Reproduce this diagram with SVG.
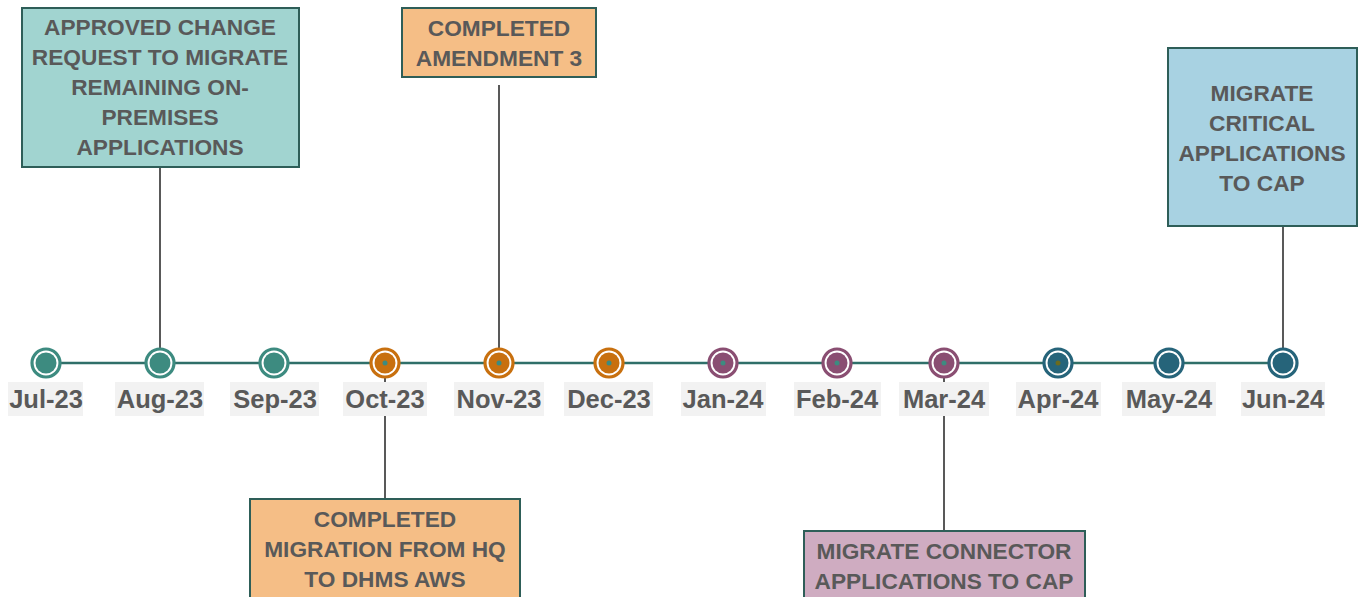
<svg xmlns="http://www.w3.org/2000/svg" width="1364" height="597" viewBox="0 0 1364 597">
<style>
.bg{fill:#ffffff}
.conn{stroke:#595959;stroke-width:2;fill:none}
.axis{stroke:#2f6f69;stroke-width:2.5}
.box{stroke:#2e5e58;stroke-width:2}
.bt{font-family:"Liberation Sans",Arial,sans-serif;font-weight:bold;font-size:22.7px;fill:#595959;text-anchor:middle}
.lb{fill:#f2f2f2}
.lt{font-family:"Liberation Sans",Arial,sans-serif;font-weight:bold;font-size:25.5px;fill:#595959;text-anchor:middle}
.ring{fill:#ffffff;stroke-width:3.2}
.teal .ring{stroke:#3d8b80}.teal .dot{fill:#3d8b80}
.orange .ring{stroke:#c8700f}.orange .dot{fill:#c8700f}
.purple .ring{stroke:#8a4e72}.purple .dot{fill:#8a4e72}
.blue .ring{stroke:#26647a}.blue .dot{fill:#26647a}
.c{fill:#3d8b80}
</style>
<rect class="bg" x="0" y="0" width="1364" height="597"/>
<g id="connectors">
<line class="conn" x1="160" y1="167" x2="160" y2="352"/>
<line class="conn" x1="499" y1="85" x2="499" y2="352"/>
<line class="conn" x1="385" y1="363" x2="385" y2="499"/>
<line class="conn" x1="944" y1="363" x2="944" y2="531"/>
<line class="conn" x1="1283" y1="226" x2="1283" y2="352"/>
<line class="axis" x1="46" y1="363" x2="1283" y2="363"/>
</g>
<g id="labels">
<rect class="lb" x="8" y="382" width="75" height="34"/><text class="lt" x="46" y="408">Jul-23</text>
<rect class="lb" x="115" y="382" width="89" height="34"/><text class="lt" x="160" y="408">Aug-23</text>
<rect class="lb" x="230" y="382" width="89" height="34"/><text class="lt" x="275" y="408">Sep-23</text>
<rect class="lb" x="343" y="382" width="84" height="34"/><text class="lt" x="385" y="408">Oct-23</text>
<rect class="lb" x="454" y="382" width="90" height="34"/><text class="lt" x="499" y="408">Nov-23</text>
<rect class="lb" x="564" y="382" width="89" height="34"/><text class="lt" x="609" y="408">Dec-23</text>
<rect class="lb" x="681" y="382" width="85" height="34"/><text class="lt" x="723" y="408">Jan-24</text>
<rect class="lb" x="794" y="382" width="87" height="34"/><text class="lt" x="837" y="408">Feb-24</text>
<rect class="lb" x="899" y="382" width="90" height="34"/><text class="lt" x="944" y="408">Mar-24</text>
<rect class="lb" x="1016" y="382" width="85" height="34"/><text class="lt" x="1058" y="408">Apr-24</text>
<rect class="lb" x="1122" y="382" width="94" height="34"/><text class="lt" x="1169" y="408">May-24</text>
<rect class="lb" x="1241" y="382" width="84" height="34"/><text class="lt" x="1283" y="408">Jun-24</text>
</g>
<g id="m-jul23" class="teal"><circle class="ring" cx="46" cy="363" r="14"/><circle class="dot" cx="46" cy="363" r="10.5"/></g>
<g id="m-aug23" class="teal"><circle class="ring" cx="160" cy="363" r="14"/><circle class="dot" cx="160" cy="363" r="10.5"/></g>
<g id="m-sep23" class="teal"><circle class="ring" cx="274" cy="363" r="14"/><circle class="dot" cx="274" cy="363" r="10.5"/></g>
<g id="m-oct23" class="orange"><circle class="ring" cx="385" cy="363" r="14"/><circle class="dot" cx="385" cy="363" r="10.5"/><circle class="c" cx="385" cy="363" r="2.5"/></g>
<g id="m-nov23" class="orange"><circle class="ring" cx="499" cy="363" r="14"/><circle class="dot" cx="499" cy="363" r="10.5"/><circle class="c" cx="499" cy="363" r="2.5"/></g>
<g id="m-dec23" class="orange"><circle class="ring" cx="609" cy="363" r="14"/><circle class="dot" cx="609" cy="363" r="10.5"/><circle class="c" cx="609" cy="363" r="2.5"/></g>
<g id="m-jan24" class="purple"><circle class="ring" cx="723" cy="363" r="14"/><circle class="dot" cx="723" cy="363" r="10.5"/><circle class="c" cx="723" cy="363" r="2.5"/></g>
<g id="m-feb24" class="purple"><circle class="ring" cx="837" cy="363" r="14"/><circle class="dot" cx="837" cy="363" r="10.5"/><circle class="c" cx="837" cy="363" r="2.5"/></g>
<g id="m-mar24" class="purple"><circle class="ring" cx="944" cy="363" r="14"/><circle class="dot" cx="944" cy="363" r="10.5"/><circle class="c" cx="944" cy="363" r="2.5"/></g>
<g id="m-apr24" class="blue"><circle class="ring" cx="1058" cy="363" r="14"/><circle class="dot" cx="1058" cy="363" r="10.5"/><circle cx="1058" cy="363" r="2.5" fill="#6b6b1f"/></g>
<g id="m-may24" class="blue"><circle class="ring" cx="1169" cy="363" r="14"/><circle class="dot" cx="1169" cy="363" r="10.5"/></g>
<g id="m-jun24" class="blue"><circle class="ring" cx="1283" cy="363" r="14"/><circle class="dot" cx="1283" cy="363" r="10.5"/></g>
<g id="n-approved">
<rect class="box" x="22" y="8" width="277" height="159" fill="#a1d4d0"/>
<text class="bt" x="160" y="35">APPROVED CHANGE</text>
<text class="bt" x="160" y="65">REQUEST TO MIGRATE</text>
<text class="bt" x="160" y="95">REMAINING ON-</text>
<text class="bt" x="160" y="125">PREMISES</text>
<text class="bt" x="160" y="155">APPLICATIONS</text>
</g>
<g id="n-amendment">
<rect class="box" x="402" y="8" width="194" height="69" fill="#f5be86"/>
<text class="bt" x="499" y="36">COMPLETED</text>
<text class="bt" x="499" y="66">AMENDMENT 3</text>
</g>
<g id="n-migration-hq">
<rect class="box" x="250" y="499" width="270" height="110" fill="#f5be86"/>
<text class="bt" x="385" y="527">COMPLETED</text>
<text class="bt" x="385" y="557">MIGRATION FROM HQ</text>
<text class="bt" x="385" y="587">TO DHMS AWS</text>
</g>
<g id="n-connector">
<rect class="box" x="804" y="531" width="281" height="80" fill="#cfacc1"/>
<text class="bt" x="944" y="559">MIGRATE CONNECTOR</text>
<text class="bt" x="944" y="589">APPLICATIONS TO CAP</text>
</g>
<g id="n-critical">
<rect class="box" x="1168" y="48" width="189" height="178" fill="#a8d2e2"/>
<text class="bt" x="1262" y="101">MIGRATE</text>
<text class="bt" x="1262" y="131">CRITICAL</text>
<text class="bt" x="1262" y="161">APPLICATIONS</text>
<text class="bt" x="1262" y="191">TO CAP</text>
</g>
</svg>
